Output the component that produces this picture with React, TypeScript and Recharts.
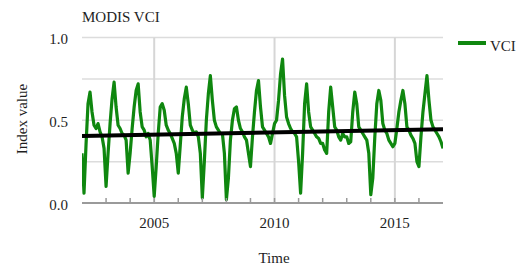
import React from 'react';
import { LineChart, Line, XAxis, YAxis, CartesianGrid, ReferenceLine } from 'recharts';

const chartTitle = 'MODIS VCI';
const seriesName = 'VCI';
const xTitle = 'Time';
const yTitle = 'Index value';

const years = [2002, 2003, 2004, 2005, 2006, 2007, 2008, 2009, 2010, 2011, 2012, 2013, 2014, 2015, 2016];
// monthly VCI values (Jan..Dec) per year
const vci2002 = [0.30, 0.06, 0.35, 0.60, 0.67, 0.55, 0.47, 0.45, 0.48, 0.43, 0.40, 0.33];
const vci2003 = [0.10, 0.30, 0.48, 0.63, 0.73, 0.58, 0.47, 0.45, 0.42, 0.41, 0.38, 0.18];
const vci2004 = [0.30, 0.45, 0.58, 0.68, 0.72, 0.55, 0.46, 0.44, 0.40, 0.42, 0.38, 0.22];
const vci2005 = [0.04, 0.22, 0.42, 0.58, 0.60, 0.56, 0.47, 0.44, 0.42, 0.39, 0.36, 0.30];
const vci2006 = [0.18, 0.35, 0.52, 0.63, 0.70, 0.60, 0.47, 0.44, 0.42, 0.43, 0.40, 0.30];
const vci2007 = [0.03, 0.25, 0.50, 0.66, 0.77, 0.62, 0.50, 0.46, 0.44, 0.42, 0.42, 0.30];
const vci2008 = [0.02, 0.15, 0.38, 0.50, 0.57, 0.58, 0.50, 0.45, 0.43, 0.40, 0.38, 0.30];
const vci2009 = [0.22, 0.40, 0.55, 0.68, 0.74, 0.58, 0.46, 0.44, 0.42, 0.40, 0.36, 0.42];
const vci2010 = [0.48, 0.50, 0.62, 0.78, 0.87, 0.65, 0.52, 0.48, 0.45, 0.43, 0.42, 0.40];
const vci2011 = [0.25, 0.06, 0.30, 0.60, 0.72, 0.55, 0.46, 0.44, 0.42, 0.40, 0.39, 0.36];
const vci2012 = [0.36, 0.32, 0.30, 0.55, 0.70, 0.58, 0.46, 0.44, 0.40, 0.38, 0.42, 0.40];
const vci2013 = [0.40, 0.36, 0.37, 0.55, 0.67, 0.60, 0.46, 0.44, 0.42, 0.40, 0.38, 0.30];
const vci2014 = [0.05, 0.15, 0.40, 0.60, 0.68, 0.62, 0.48, 0.44, 0.42, 0.38, 0.36, 0.34];
const vci2015 = [0.36, 0.45, 0.55, 0.62, 0.68, 0.60, 0.46, 0.44, 0.41, 0.39, 0.36, 0.25];
const vci2016 = [0.22, 0.40, 0.55, 0.66, 0.77, 0.62, 0.50, 0.46, 0.44, 0.42, 0.40, 0.37];
const vciFinal = 0.33; // value at start of 2017

const trendYears = [2002, 2017];
const trendValues = [0.405, 0.445];

const xTicks = [2003, 2004, 2005, 2006, 2007, 2008, 2009, 2010, 2011, 2012, 2013, 2014, 2015, 2016];
const labelYears = [2005, 2010, 2015];
const yTicks = [0, 0.25, 0.5, 0.75, 1];

const yearly = [vci2002, vci2003, vci2004, vci2005, vci2006, vci2007, vci2008, vci2009, vci2010, vci2011, vci2012, vci2013, vci2014, vci2015, vci2016];

const vciData: { t: number; v: number }[] = [];
years.forEach((y, i) => {
  yearly[i].forEach((v, m) => vciData.push({ t: y + m / 12, v }));
});
vciData.push({ t: years[years.length - 1] + 1, v: vciFinal });

const trendData = trendYears.map((t, i) => ({ t, v: trendValues[i] }));

const FONT = "'Liberation Serif', 'DejaVu Serif', serif";
const TEXT = '#1e1e1e';
const GREEN = '#0f870f';
const txtStyle: React.CSSProperties = { fontFamily: FONT, fontSize: 15 };

const XTick = (props: any) => {
  const { x, y, payload } = props;
  return (
    <g>
      <line x1={x} x2={x} y1={y} y2={y - 5} stroke="#9a9a9a" strokeWidth={1.5} />
      {labelYears.includes(payload.value) && (
        <text x={x} y={y + 25} textAnchor="middle" fill={TEXT} style={txtStyle}>
          {payload.value}
        </text>
      )}
    </g>
  );
};

const YTick = (props: any) => {
  const { x, y, payload } = props;
  const v = payload.value as number;
  if ((v * 2) % 1 !== 0) return <g />;
  return (
    <text x={x} y={y + 6.5} textAnchor="end" fill={TEXT} style={txtStyle}>
      {v.toFixed(1)}
    </text>
  );
};

export default function App() {
  return (
    <div style={{ position: 'relative', width: 516, height: 259, fontFamily: FONT }}>
      <LineChart width={516} height={259} margin={{ top: 29.5, right: 81, bottom: 34, left: 0 }}>
        <CartesianGrid vertical={false} stroke="#dcdcdc" strokeWidth={1.5} />
        {labelYears.map((yr) => (
          <ReferenceLine key={yr} x={yr} stroke="#d6d6d6" strokeWidth={2} />
        ))}
        <XAxis
          dataKey="t"
          type="number"
          domain={[2002, 2017]}
          ticks={xTicks}
          interval={0}
          tick={<XTick />}
          tickLine={false}
          tickSize={0}
          tickMargin={0}
          axisLine={{ stroke: '#9a9a9a', strokeWidth: 2 }}
          height={30}
          allowDataOverflow
        />
        <YAxis
          type="number"
          domain={[0, 1]}
          ticks={yTicks}
          interval={0}
          axisLine={false}
          tickLine={false}
          tickSize={0}
          tickMargin={14}
          width={74}
          tick={<YTick />}
        />
        <Line
          data={vciData}
          dataKey="v"
          name={seriesName}
          type="linear"
          stroke={GREEN}
          strokeWidth={3.2}
          strokeLinejoin="round"
          dot={false}
          isAnimationActive={false}
        />
        <Line
          data={trendData}
          dataKey="v"
          name="trend"
          type="linear"
          stroke="#000"
          strokeWidth={4}
          dot={false}
          legendType="none"
          isAnimationActive={false}
        />
      </LineChart>
      <svg width={516} height={259} style={{ position: 'absolute', left: 0, top: 0, pointerEvents: 'none', overflow: 'visible' }}>
        <text x={74} y={14} fill={TEXT} style={txtStyle}>{chartTitle}</text>
        <line x1={450} x2={478} y1={35} y2={35} stroke={GREEN} strokeWidth={4} />
        <text x={482} y={43} fill={TEXT} style={txtStyle}>{seriesName}</text>
        <text x={19} y={111} transform="rotate(-90 19 111)" textAnchor="middle" fill={TEXT} style={txtStyle}>{yTitle}</text>
        <text x={266} y={255} textAnchor="middle" fill={TEXT} style={txtStyle}>{xTitle}</text>
      </svg>
    </div>
  );
}
